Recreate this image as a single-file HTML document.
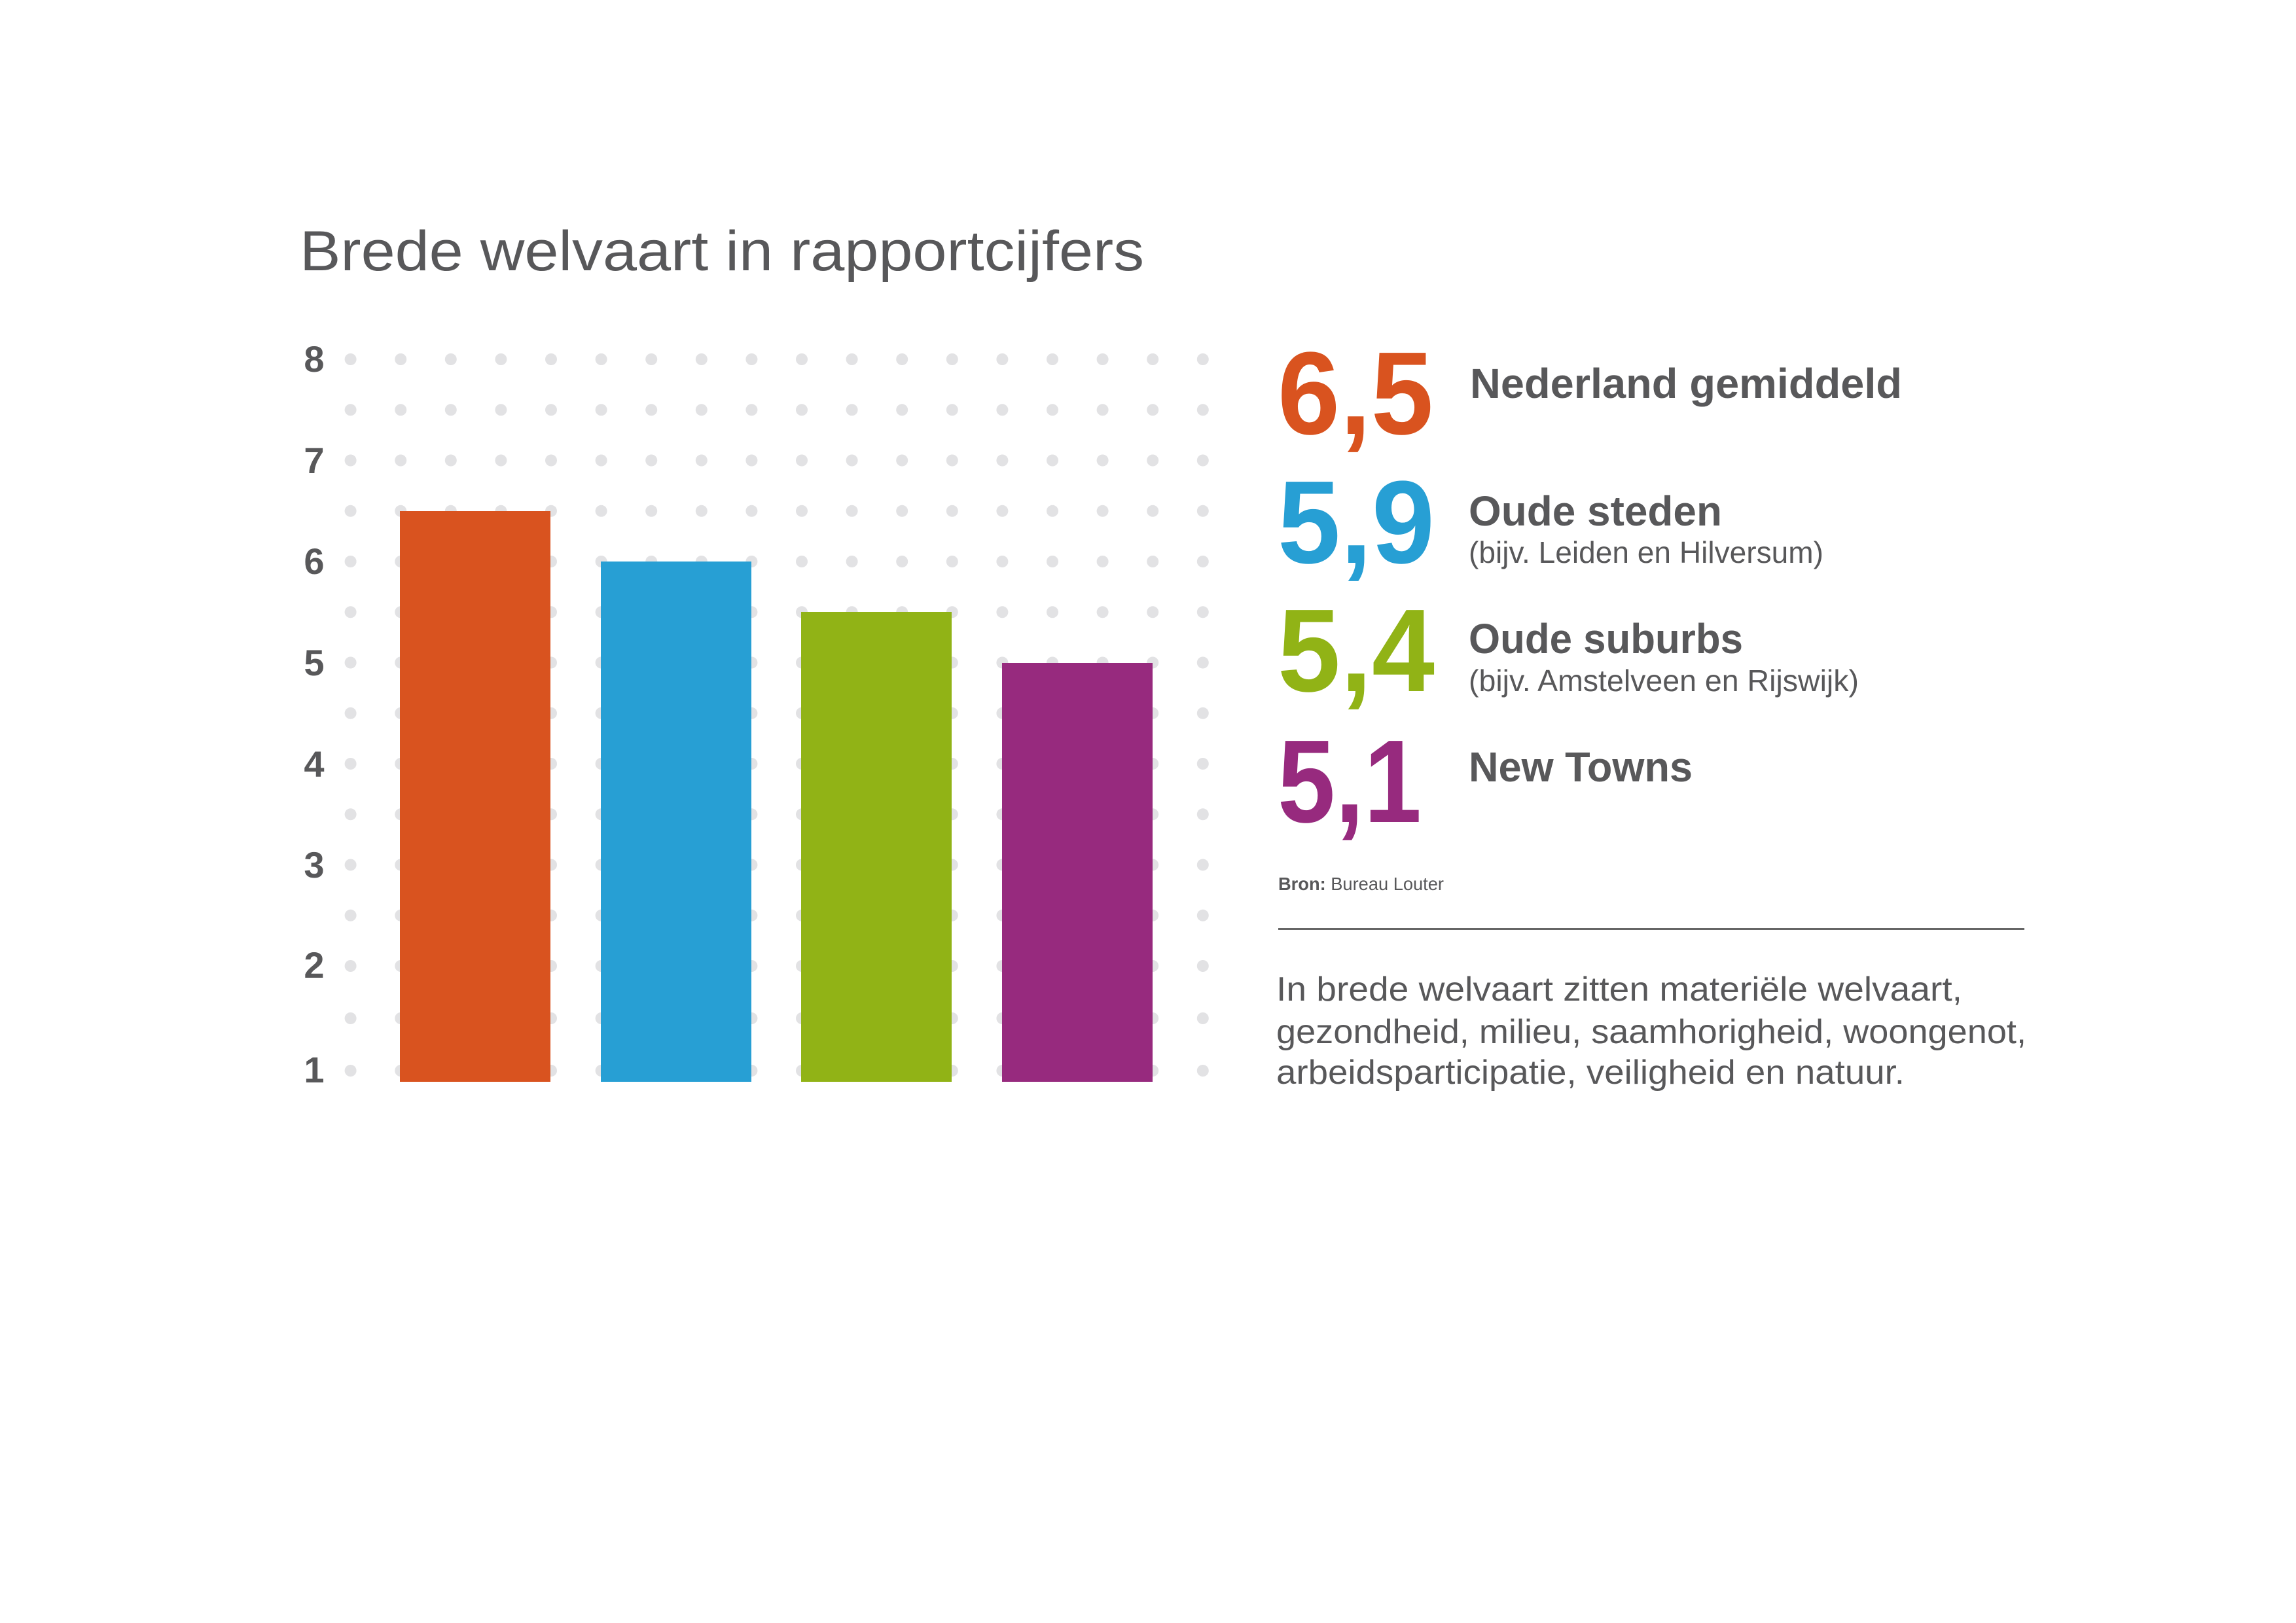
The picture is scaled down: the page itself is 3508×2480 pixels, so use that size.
<!DOCTYPE html>
<html><head><meta charset="utf-8"><style>
html,body{margin:0;padding:0;background:#fff;}
svg{display:block;}
text{font-family:"Liberation Sans","DejaVu Sans",sans-serif;fill:#58585a;}
</style></head><body>
<svg width="3508" height="2480" viewBox="0 0 3508 2480" xmlns="http://www.w3.org/2000/svg">
<rect width="3508" height="2480" fill="#fff"/>
<text x="458" y="413" font-size="86" textLength="1290" lengthAdjust="spacingAndGlyphs">Brede welvaart in rapportcijfers</text>
<g id="dots" fill="#e2e2e4"></g>
<g font-size="56" font-weight="bold" text-anchor="middle">
<text x="480" y="568">8</text>
<text x="480" y="723">7</text>
<text x="480" y="877">6</text>
<text x="480" y="1032">5</text>
<text x="480" y="1187">4</text>
<text x="480" y="1341">3</text>
<text x="480" y="1494">2</text>
<text x="480" y="1654">1</text>
</g>
<rect x="611" y="781" width="230" height="872" fill="#d9531f"/>
<rect x="918" y="858" width="230" height="795" fill="#279fd4"/>
<rect x="1224" y="935" width="230" height="718" fill="#91b316"/>
<rect x="1531" y="1013" width="230" height="640" fill="#972a7e"/>

<g font-weight="bold" font-size="180">
<text x="1952" y="663" style="fill:#d9531f" textLength="238" lengthAdjust="spacingAndGlyphs">6,5</text>
<text x="1952" y="860" style="fill:#279fd4" textLength="240" lengthAdjust="spacingAndGlyphs">5,9</text>
<text x="1952" y="1056" style="fill:#91b316" textLength="240" lengthAdjust="spacingAndGlyphs">5,4</text>
<text x="1952" y="1256" style="fill:#972a7e" textLength="220" lengthAdjust="spacingAndGlyphs">5,1</text>
</g>
<g font-weight="bold" font-size="64">
<text x="2246" y="608" textLength="660" lengthAdjust="spacingAndGlyphs">Nederland gemiddeld</text>
<text x="2244" y="803" textLength="387" lengthAdjust="spacingAndGlyphs">Oude steden</text>
<text x="2244" y="998" textLength="419" lengthAdjust="spacingAndGlyphs">Oude suburbs</text>
<text x="2244" y="1194" textLength="342" lengthAdjust="spacingAndGlyphs">New Towns</text>
</g>
<g font-size="46">
<text x="2244" y="860" textLength="542" lengthAdjust="spacingAndGlyphs">(bijv. Leiden en Hilversum)</text>
<text x="2244" y="1056" textLength="596" lengthAdjust="spacingAndGlyphs">(bijv. Amstelveen en Rijswijk)</text>
</g>
<text x="1953" y="1360" font-size="28" textLength="253" lengthAdjust="spacingAndGlyphs"><tspan font-weight="bold">Bron:</tspan> Bureau Louter</text>
<rect x="1953" y="1418" width="1140" height="3" fill="#666"/>
<g font-size="52">
<text x="1950" y="1529" textLength="1048" lengthAdjust="spacingAndGlyphs">In brede welvaart zitten materiële welvaart,</text>
<text x="1950" y="1594" textLength="1146" lengthAdjust="spacingAndGlyphs">gezondheid, milieu, saamhorigheid, woongenot,</text>
<text x="1950" y="1656" textLength="960" lengthAdjust="spacingAndGlyphs">arbeidsparticipatie, veiligheid en natuur.</text>
</g>
</svg>
<script>
var g=document.getElementById('dots'),s='';
for(var r=0;r<15;r++){var y=r<=12?549+r*77.25:(r==13?1556:1636);for(var c=0;c<18;c++){s+='<circle cx="'+(535.6+c*76.6).toFixed(1)+'" cy="'+y.toFixed(1)+'" r="9"/>';}}
g.innerHTML=s;
</script>
</body></html>
